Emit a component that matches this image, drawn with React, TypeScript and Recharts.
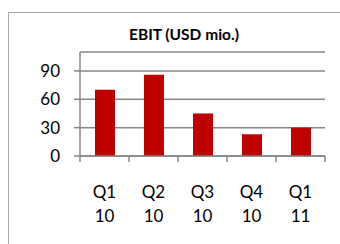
import React from 'react'
import { Bar, BarChart, CartesianGrid, XAxis, YAxis } from 'recharts'

const quarters = ['Q1 10', 'Q2 10', 'Q3 10', 'Q4 10', 'Q1 11']
const ebit = [70, 86, 45, 23, 30]
const yTicks = [0, 30, 60, 90]

const data = quarters.map((quarter, i) => ({ quarter, ebit: ebit[i] }))

const AXIS = '#868686'
const FONT = 'Lato, "Open Sans", sans-serif'

function QuarterTick(props: any) {
  const { x, y, payload, index } = props
  const half = payload?.offset ?? 24.5
  const [q, yr] = String(payload.value).split(' ')
  return (
    <g>
      <line x1={x - half} x2={x - half} y1={y - 8} y2={y - 2} stroke={AXIS} strokeWidth={1.5} />
      {index === quarters.length - 1 ? (
        <line x1={x + half} x2={x + half} y1={y - 8} y2={y - 2} stroke={AXIS} strokeWidth={1.5} />
      ) : null}
      <text x={x} y={y + 34} textAnchor="middle" fontSize={17} fill="#000" fontFamily={FONT}>
        {q}
      </text>
      <text x={x} y={y + 58} textAnchor="middle" fontSize={17} fill="#000" fontFamily={FONT}>
        {yr}
      </text>
    </g>
  )
}

export default function App() {
  return (
    <div
      style={{
        position: 'absolute',
        left: 0,
        top: 0,
        width: 340,
        height: 244,
        overflow: 'hidden',
        background: '#fff',
      }}
    >
      <div
        style={{
          position: 'absolute',
          left: 8,
          top: 12,
          width: 360,
          height: 260,
          border: '1.5px solid #a6a6a6',
        }}
      />
      <div
        style={{
          position: 'absolute',
          left: 84,
          top: 25,
          width: 200,
          textAlign: 'center',
          fontFamily: FONT,
          fontWeight: 'bold',
          fontSize: 15.5,
          color: '#000',
        }}
      >
        EBIT (USD mio.)
      </div>
      <div style={{ position: 'absolute', left: 0, top: 0 }}>
        <BarChart
          width={340}
          height={244}
          data={data}
          margin={{ top: 52, right: 15, bottom: 0, left: 0 }}
          barCategoryGap={0}
        >
          <CartesianGrid vertical={false} stroke={AXIS} strokeWidth={1.5} />
          <XAxis
            dataKey="quarter"
            height={88}
            axisLine={{ stroke: AXIS, strokeWidth: 1.5 }}
            tickLine={false}
            tick={<QuarterTick />}
            interval={0}
          />
          <YAxis
            width={80}
            domain={[0, 110]}
            ticks={yTicks}
            axisLine={{ stroke: AXIS, strokeWidth: 1.5 }}
            tickLine={{ stroke: AXIS, strokeWidth: 1.5 }}
            tickSize={6}
            tickMargin={14}
            tick={{ fontSize: 17, fill: '#000', fontFamily: FONT }}
          />
          <Bar dataKey="ebit" fill="#c00000" barSize={20} isAnimationActive={false} />
        </BarChart>
      </div>
    </div>
  )
}
